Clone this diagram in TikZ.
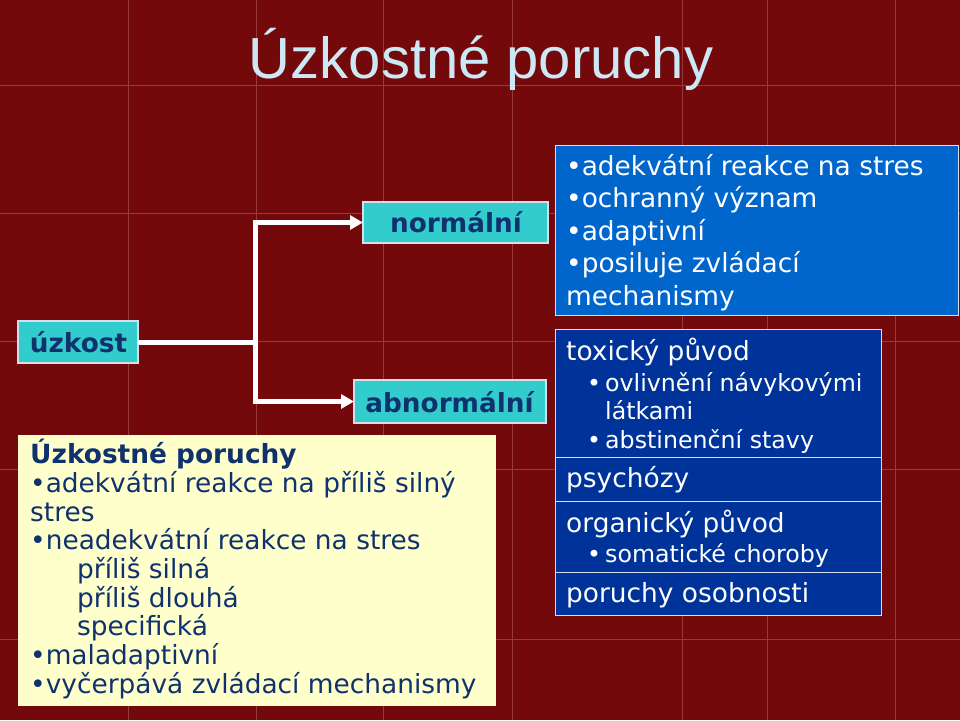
\documentclass[tikz,border=0pt]{standalone}
\usepackage{fontspec}
\setmainfont{DejaVu Sans}
\newfontfamily\titlefont{Liberation Sans}
\usetikzlibrary{arrows.meta}
\definecolor{bgred}{RGB}{116,9,11}
\definecolor{gridln}{RGB}{150,58,58}
\definecolor{titlecol}{RGB}{205,232,245}
\definecolor{cyanfill}{RGB}{51,204,204}
\definecolor{navytext}{RGB}{15,50,110}
\definecolor{yellowfill}{RGB}{255,255,204}
\definecolor{bluefill}{RGB}{0,102,204}
\definecolor{navyfill}{RGB}{0,51,153}
\definecolor{edgecol}{RGB}{215,222,235}
\begin{document}
\begin{tikzpicture}[x=1pt,y=-1pt,
  gridline/.style={draw=gridln, line width=0.7pt},
  boxbase/.style={anchor=north west, inner sep=0pt, outer sep=0pt},
  cbox/.style={boxbase, fill=cyanfill, draw=edgecol, line width=1.3pt},
  ctext/.style={anchor=base, inner sep=0pt, text=navytext, font=\bfseries\fontsize{26.3}{30}\selectfont},
  wline/.style={anchor=base west, inner sep=0pt, text=white, font=\fontsize{26.4}{30}\selectfont},
  wsub/.style={anchor=base west, inner sep=0pt, text=white, font=\fontsize{23.7}{28}\selectfont},
  yline/.style={anchor=base west, inner sep=0pt, text=navytext, font=\fontsize{26.4}{30}\selectfont},
  conn/.style={draw=white, line width=5pt},
  arr/.style={-{Triangle[length=13pt,width=14pt]}}
]
\fill[bgred] (0,0) rectangle (960,720);
\useasboundingbox (0,0) rectangle (960,720);
% faint background grid
\foreach \gx in {128,256,383,512,682,767,895} \draw[gridline] (\gx,0) -- (\gx,720);
\foreach \gy in {85,213,341,469,639} \draw[gridline] (0,\gy) -- (960,\gy);

% title
\node[anchor=base, inner sep=0pt, text=titlecol, font=\titlefont\fontsize{58}{60}\selectfont] (title) at (481,78) {Úzkostné poruchy};

% cyan boxes
\node[cbox, minimum width=120pt, minimum height=42pt] (uzkost) at (18,321) {};
\node[ctext] (uzkostT) at (78.5,352) {úzkost};
\node[cbox, minimum width=185pt, minimum height=41pt] (normalni) at (363,202) {};
\node[ctext] (normalniT) at (456,232) {normální};
\node[cbox, minimum width=192pt, minimum height=43pt] (abnormalni) at (354,380) {};
\node[ctext] (abnormalniT) at (449.5,412) {abnormální};

% connectors
\coordinate (split) at (255,342);
\draw[conn] (uzkost.east) -- (split);
\draw[conn,arr] (split) |- (normalni.west);
\draw[conn,arr] (split) |- (abnormalni.west);

% top right blue box
\node[boxbase, fill=bluefill, draw=edgecol, line width=1pt, minimum width=403pt, minimum height=170pt] (normbox) at (555,145) {};
\node[wline] (n1) at (566,175) {•adekvátní reakce na stres};
\node[wline] (n2) at (566,207.5) {•ochranný význam};
\node[wline] (n3) at (566,240) {•adaptivní};
\node[wline] (n4) at (566,272.5) {•posiluje zvládací};
\node[wline] (n5) at (566,305) {mechanismy};

% navy box with four cells
\node[boxbase, fill=navyfill, draw=edgecol, line width=1pt, minimum width=326pt, minimum height=286pt] (abnbox) at (555,329) {};
\draw[draw=edgecol, line width=1pt] (abnbox.west |- 0,457) -- (abnbox.east |- 0,457);
\draw[draw=edgecol, line width=1pt] (abnbox.west |- 0,501) -- (abnbox.east |- 0,501);
\draw[draw=edgecol, line width=1pt] (abnbox.west |- 0,572) -- (abnbox.east |- 0,572);
\node[wline] (a1) at (566,360) {toxický původ};
\node[wsub] (a2b) at (587,391) {•};
\node[wsub] (a2) at (605,391) {ovlivnění návykovými};
\node[wsub] (a3) at (605,419) {látkami};
\node[wsub] (a4b) at (587,448) {•};
\node[wsub] (a4) at (605,448) {abstinenční stavy};
\node[wline] (a5) at (566,487) {psychózy};
\node[wline] (a6) at (566,532) {organický původ};
\node[wsub] (a7b) at (587,562) {•};
\node[wsub] (a7) at (605,562) {somatické choroby};
\node[wline] (a8) at (566,602) {poruchy osobnosti};

% yellow box
\node[boxbase, fill=yellowfill, minimum width=478pt, minimum height=271pt] (ybox) at (18,435) {};
\node[yline, font=\bfseries\fontsize{26.4}{30}\selectfont] (y1) at (30,463) {Úzkostné poruchy};
\node[yline] (y2) at (30,492) {•adekvátní reakce na příliš silný};
\node[yline] (y3) at (30,521) {stres};
\node[yline] (y4) at (30,549) {•neadekvátní reakce na stres};
\node[yline] (y5) at (77,578) {příliš silná};
\node[yline] (y6) at (77,607) {příliš dlouhá};
\node[yline] (y7) at (77,635) {specifická};
\node[yline] (y8) at (30,664) {•maladaptivní};
\node[yline] (y9) at (30,693) {•vyčerpává zvládací mechanismy};
\end{tikzpicture}
\end{document}
